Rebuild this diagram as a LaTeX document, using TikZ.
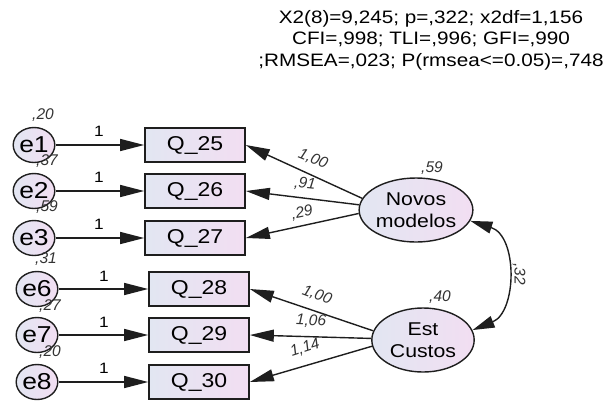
\documentclass[tikz,border=0pt]{standalone}
\usepackage{fontspec}
\setmainfont{Liberation Sans}
\usetikzlibrary{shapes.geometric,arrows.meta}
\definecolor{lc}{RGB}{226,230,242}
\definecolor{rc}{RGB}{242,222,242}
\definecolor{edge}{RGB}{30,30,30}
\tikzset{
 lat/.style={draw=edge, line width=1.4pt, ellipse, left color=lc, right color=rc, inner sep=0pt, xscale=1.15},
 err/.style={lat, minimum width=33pt, minimum height=35pt, font=\fontsize{23}{23}\selectfont},
 fac/.style={lat, minimum width=89pt, minimum height=64pt, font=\fontsize{18.5}{22}\selectfont, align=center},
 obs/.style={draw=edge, line width=1.4pt, rectangle, left color=lc, right color=rc, minimum width=87pt, minimum height=34pt, inner sep=0pt, xscale=1.15, font=\fontsize{20}{20}\selectfont},
 arr/.style={draw=edge, line width=1.4pt, -{Triangle[length=24pt,width=12pt]}},
 biarr/.style={draw=edge, line width=1.4pt, {Triangle[length=22pt,width=12pt]}-{Triangle[length=22pt,width=12pt]}},
 one/.style={font=\fontsize{15}{15}\selectfont, xscale=1.15, inner sep=0pt},
 est/.style={font=\itshape\fontsize{15.5}{15.5}\selectfont, text=black!80, inner sep=0pt},
 ttl/.style={font=\fontsize{18}{21.5}\selectfont, xscale=1.15, align=center, inner sep=0pt},
}
\begin{document}
\begin{tikzpicture}[x=1pt,y=-1pt]
\useasboundingbox (0,0) rectangle (607,400);
% title
\node[ttl] (title) at (431,40) {X2(8)=9,245; p=,322; x2df=1,156\\CFI=,998; TLI=,996; GFI=,990\\;RMSEA=,023; P(rmsea<=0.05)=,748};
% error terms
\node[err] (e1) at (34,145) {e1};
\node[err] (e2) at (34,191) {e2};
\node[err] (e3) at (34,238) {e3};
\node[err] (e6) at (37,289) {e6};
\node[err] (e7) at (37,335) {e7};
\node[err] (e8) at (37,382) {e8};
% observed
\node[obs] (q25) at (195,145) {Q\_25};
\node[obs] (q26) at (195,191) {Q\_26};
\node[obs] (q27) at (195,238) {Q\_27};
\node[obs] (q28) at (199,289) {Q\_28};
\node[obs] (q29) at (199,335) {Q\_29};
\node[obs] (q30) at (199,382) {Q\_30};
% latent
\node[fac] (nm) at (416,210) {Novos\\modelos};
\node[fac] (ec) at (423,340) {Est\\Custos};
% error paths
\foreach \e/\q in {e1/q25,e2/q26,e3/q27,e6/q28,e7/q29,e8/q30}{
  \draw[arr] (\e) -- (\q);
}
\node[one] (o1) at (99,131) {1};
\node[one] (o2) at (99,177) {1};
\node[one] (o3) at (99,224) {1};
\node[one] (o6) at (104,276) {1};
\node[one] (o7) at (104,322) {1};
\node[one] (o8) at (104,368) {1};
% loadings
\draw[arr] (nm.166) -- (q25.east);
\draw[arr] (nm.174) -- (q26.east);
\draw[arr] (nm.184) -- (q27.east);
\draw[arr] (ec.168) -- (q28.east);
\draw[arr] (ec.178) -- (q29.east);
\draw[arr] (ec.188) -- (q30.east);
\node[est, rotate=-22] (l1) at (313,159) {1,00};
\node[est, rotate=-6] (l2) at (305,184) {,91};
\node[est, rotate=11] (l3) at (302,213) {,29};
\node[est, rotate=-20] (l4) at (317,295) {1,00};
\node[est, rotate=-2] (l5) at (311,321) {1,06};
\node[est, rotate=18] (l6) at (305,348) {1,14};
% covariance
\draw[biarr] (nm.-13) .. controls (518,236) and (517,312) .. (ec.13);
\node[est, rotate=-90] (c1) at (519,274) {,32};
% variances
\node[est] (v1) at (43,115) {,20};
\node[est] (v2) at (47,161) {,37};
\node[est] (v3) at (47,207) {,59};
\node[est] (v6) at (46,259) {,31};
\node[est] (v7) at (50,306) {,27};
\node[est] (v8) at (50,352) {,20};
\node[est] (vn) at (432,168) {,59};
\node[est] (ve) at (440,297) {,40};
\end{tikzpicture}
\end{document}
